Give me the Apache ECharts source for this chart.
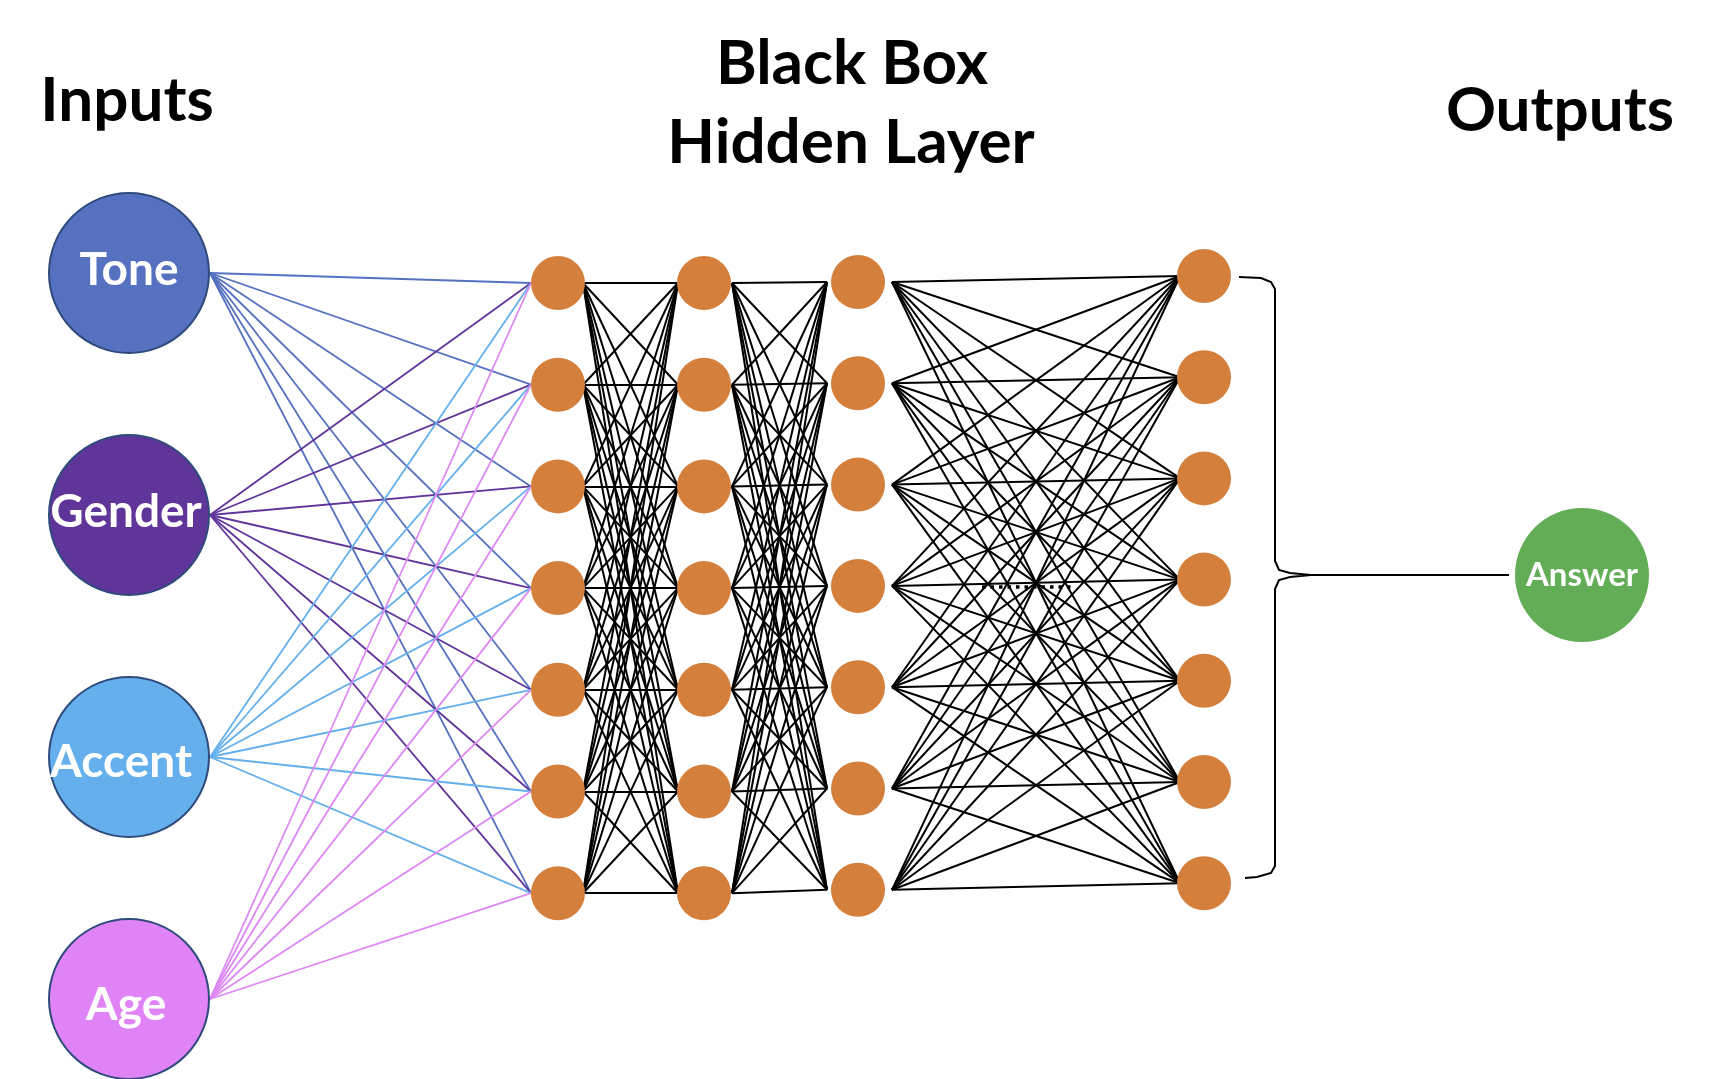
<!DOCTYPE html>
<html>
<head>
<meta charset="utf-8">
<script src="https://cdn.jsdelivr.net/npm/echarts@6/dist/echarts.min.js"></script>
<style>
html,body{margin:0;padding:0;background:#fff;}
#chart{width:1712px;height:1079px;}
</style>
</head>
<body>
<div id="chart"></div>
<script>
// ---------- data ----------
const titles = ['Inputs', 'Black Box', 'Hidden Layer', 'Outputs'];
const inputNames = ['Tone', 'Gender', 'Accent', 'Age'];
const hiddenLayerSizes = [7, 7, 7, 7];
const outputNames = ['Answer'];

// ---------- layout & style ----------
const W = 1712, H = 1079;
const inputColors = ['#5571C0', '#60359A', '#64AFEC', '#E083F7'];
const inputLineColors = ['#5571C0', '#60359A', '#64AFEC', '#DD88F4'];
const inputLabelOffsets = [[0, -3], [-3, -3], [-8, 5], [-3, 6]];
const hiddenColor = '#D57F3C';
const answerColor = '#63AD57';
const inputX = 129, inputY0 = 273, inputDy = 242, inputR = 80;
const hiddenX = [558, 704, 858, 1204];
const hiddenY0 = [283, 283, 282, 276];
const hiddenDy = [101.7, 101.7, 101.3, 101.2];
const hiddenR = 27;
const gapPad = [[25, 26], [28, 31], [34, 24]]; // start / end padding per gap
const answerX = 1582, answerY = 575, answerR = 67;
const brace = {x0: 1239, xv: 1275, xt: 1311, top: 277, bottom: 878};

function hy(c, r) { return hiddenY0[c] + r * hiddenDy[c]; }

// input edges
const inputEdges = [];
inputNames.forEach((n, i) => {
  for (let j = 0; j < hiddenLayerSizes[0]; j++) {
    inputEdges.push({
      coords: [[inputX + inputR + 1, inputY0 + i * inputDy], [hiddenX[0] - hiddenR, hy(0, j)]],
      lineStyle: {color: inputLineColors[i]}
    });
  }
});
// hidden edges
const hiddenEdges = [];
for (let c = 0; c < hiddenLayerSizes.length - 1; c++) {
  for (let a = 0; a < hiddenLayerSizes[c]; a++) {
    for (let b = 0; b < hiddenLayerSizes[c + 1]; b++) {
      hiddenEdges.push({coords: [[hiddenX[c] + gapPad[c][0], hy(c, a)], [hiddenX[c + 1] - gapPad[c][1], hy(c + 1, b)]]});
    }
  }
}
// nodes
const inputNodes = inputNames.map((n, i) => ({
  name: n, value: [inputX, inputY0 + i * inputDy], itemStyle: {color: inputColors[i]},
  label: {offset: inputLabelOffsets[i]}
}));
const hiddenNodes = [];
hiddenLayerSizes.forEach((s, c) => {
  for (let r = 0; r < s; r++) hiddenNodes.push({value: [hiddenX[c], hy(c, r)]});
});
const answerNodes = outputNames.map(n => ({name: n, value: [answerX, answerY]}));

// brace
const b = brace, my = answerY;
const bracePts = [
  [b.x0, b.top], [b.x0 + 22, b.top + 1], [b.xv - 4, b.top + 5], [b.xv, b.top + 12],
  [b.xv, my - 14], [b.xv + 4, my - 5], [b.xv + 15, my - 2], [b.xt, my],
  [b.xv + 15, my + 2], [b.xv + 4, my + 5], [b.xv, my + 14],
  [b.xv, b.bottom - 12], [b.xv - 4, b.bottom - 5], [b.xv - 18, b.bottom - 1], [b.x0 + 6, b.bottom]
];

const chart = echarts.init(document.getElementById('chart'), null, {renderer: 'canvas'});
const font = 'Lato, "Open Sans", sans-serif';
const titleFont = 'bold 62px ' + font;
chart.setOption({
  animation: false,
  backgroundColor: '#fff',
  grid: {left: 0, right: 0, top: 0, bottom: 0},
  xAxis: {type: 'value', min: 0, max: W, show: false},
  yAxis: {type: 'value', min: 0, max: H, inverse: true, show: false},
  graphic: [
    {type: 'text', x: 127, y: 101, style: {text: titles[0], font: titleFont, fill: '#000', align: 'center', verticalAlign: 'middle'}},
    {type: 'text', x: 852, y: 64, style: {text: titles[1], font: titleFont, fill: '#000', align: 'center', verticalAlign: 'middle'}},
    {type: 'text', x: 851, y: 143, style: {text: titles[2], font: titleFont, fill: '#000', align: 'center', verticalAlign: 'middle'}},
    {type: 'text', x: 1560, y: 111, style: {text: titles[3], font: titleFont, fill: '#000', align: 'center', verticalAlign: 'middle'}}
  ],
  series: [
    {type: 'lines', coordinateSystem: 'cartesian2d', silent: true, z: 1,
     lineStyle: {width: 1.8, opacity: 1}, data: inputEdges},
    {type: 'lines', coordinateSystem: 'cartesian2d', silent: true, z: 1,
     lineStyle: {width: 2, color: '#000', opacity: 1}, data: hiddenEdges},
    {type: 'lines', coordinateSystem: 'cartesian2d', silent: true, z: 1, polyline: true,
     lineStyle: {width: 2, color: '#000', opacity: 1}, data: [{coords: bracePts}]},
    {type: 'lines', coordinateSystem: 'cartesian2d', silent: true, z: 1,
     lineStyle: {width: 2, color: '#000', opacity: 1},
     data: [{coords: [[b.xt, my], [answerX - answerR - 6, my]]}]},
    {type: 'lines', coordinateSystem: 'cartesian2d', silent: true, z: 2,
     lineStyle: {width: 3.5, color: '#000', opacity: 1, type: [3.5, 5]},
     data: [{coords: [[982, 587], [1072, 587]]}]},
    {type: 'scatter', silent: true, z: 3, symbol: 'circle', symbolSize: inputR * 2,
     itemStyle: {borderColor: '#2F4B7C', borderWidth: 2, opacity: 1},
     label: {show: true, position: 'inside', formatter: '{b}', color: '#fff',
             fontSize: 46, fontWeight: 'bold', fontFamily: font},
     data: inputNodes},
    {type: 'scatter', silent: true, z: 3, symbol: 'circle', symbolSize: hiddenR * 2,
     itemStyle: {color: hiddenColor, opacity: 1}, data: hiddenNodes},
    {type: 'scatter', silent: true, z: 3, symbol: 'circle', symbolSize: answerR * 2,
     itemStyle: {color: answerColor, opacity: 1},
     label: {show: true, position: 'inside', formatter: '{b}', color: '#fff',
             fontSize: 33, fontWeight: 'bold', fontFamily: font},
     data: answerNodes}
  ]
});
</script>
</body>
</html>
